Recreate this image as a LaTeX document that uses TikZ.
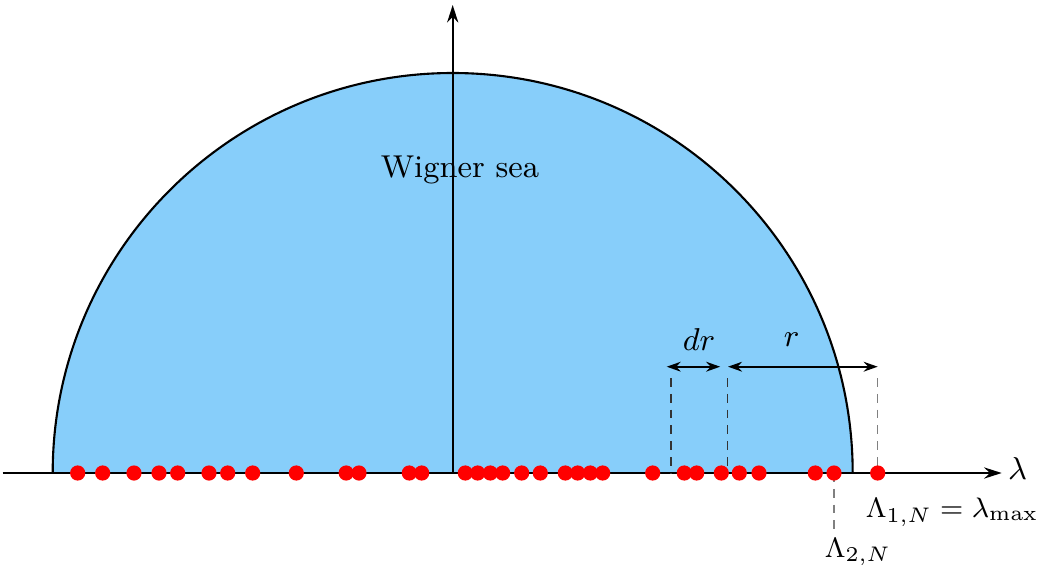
\documentclass[tikz,border=0pt]{standalone}
\usetikzlibrary{arrows.meta}
\definecolor{seablue}{RGB}{135,206,250}
\tikzset{
  every node/.style={font=\fontsize{9}{11}\selectfont},
  small label/.style={font=\fontsize{8.3}{10}\selectfont},
  axis/.style={line width=0.5pt,-{Stealth[length=5pt,width=3.2pt]}},
  dotmark/.style={circle,fill=red,inner sep=0pt,minimum size=0.152cm},
  guide/.style={line width=0.35pt,dash pattern=on 2.5pt off 2pt},
  dim/.style={line width=0.5pt,{Stealth[length=4pt,width=2.8pt]}-{Stealth[length=4pt,width=2.8pt]}}
}
\begin{document}
\begin{tikzpicture}
\useasboundingbox (-4.527,-1.01) rectangle (5.863,4.73);
% sea
\fill[seablue] (-4,0) arc[start angle=180,end angle=0,radius=4] -- cycle;
\draw[line width=0.6pt] (-4,0) arc[start angle=180,end angle=0,radius=4];
% axes
\coordinate (xs) at (-4.5,0);
\coordinate (xe) at (5.49,0);
\coordinate (o) at (0,0);
\coordinate (ye) at (0,4.68);
\draw[axis] (xs) -- (xe);
\draw[axis] (o) -- (ye);
\node (lam) at (5.65,0.04) {$\lambda$};
\node (sea) at (0.073,3.03) {Wigner sea};
% guides
\coordinate (g1t) at (2.183,0.95); \coordinate (g1b) at (2.183,0);
\coordinate (g2t) at (2.75,0.95);  \coordinate (g2b) at (2.75,0);
\coordinate (g3t) at (4.25,0.95);  \coordinate (g3b) at (4.25,0);
\coordinate (g4t) at (3.813,0);    \coordinate (g4b) at (3.813,-0.57);
\draw[guide,black!80] (g1t) -- (g1b);
\draw[guide,black!80] (g2t) -- (g2b);
\draw[guide,gray] (g3t) -- (g3b);
\draw[guide,gray] (g4t) -- (g4b);
% dimension arrows
\coordinate (d1) at (2.14,1.063); \coordinate (d2) at (2.675,1.063);
\coordinate (r1) at (2.753,1.063); \coordinate (r2) at (4.25,1.063);
\draw[dim] (d1) -- (d2);
\draw[dim] (r1) -- (r2);
\node (dr) at (2.463,1.33) {$dr$};
\node (rl) at (3.39,1.33) {$r$};
% eigenvalues
\foreach \x [count=\i] in {-3.75,-3.50,-3.187,-2.937,-2.75,-2.437,-2.25,-2.00,-1.564,-1.065,-0.937,-0.434,-0.31,0.126,0.25,0.376,0.50,0.69,0.876,1.126,1.25,1.376,1.50,2.00,2.316,2.44,2.686,2.866,3.063,3.626,3.813,4.25}
  \node[dotmark] (e\i) at (\x,0) {};
\node[small label] (L1) at (4.995,-0.39) {$\Lambda_{1,N}=\lambda_{\max}$};
\node[small label] (L2) at (4.053,-0.79) {$\Lambda_{2,N}$};
\end{tikzpicture}
\end{document}
